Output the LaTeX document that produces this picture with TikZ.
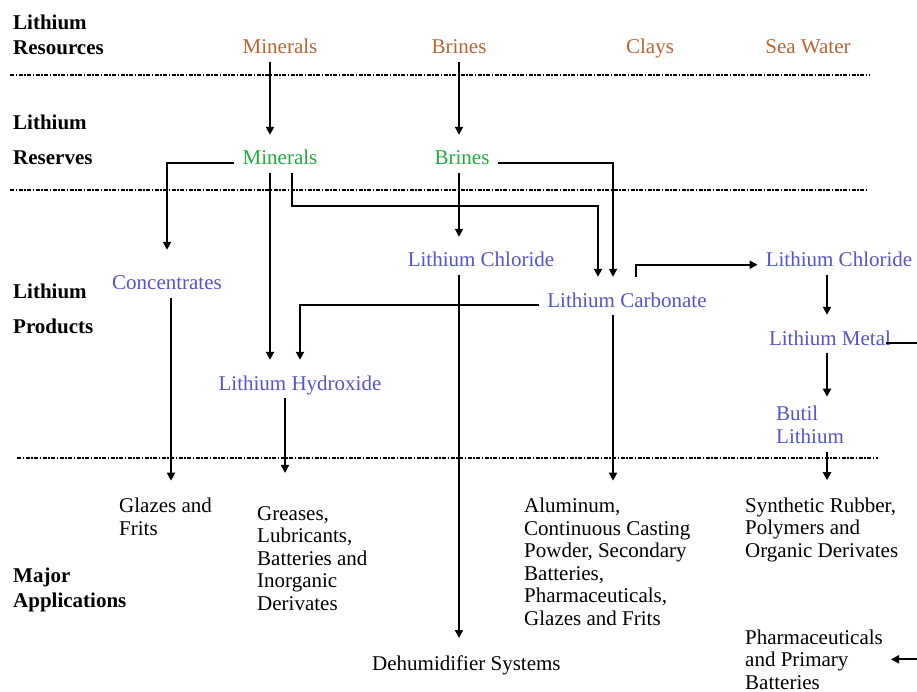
\documentclass[tikz,border=0pt]{standalone}
\usepackage{fontspec}
\setmainfont{Liberation Serif}
\usetikzlibrary{arrows.meta}
\definecolor{resclr}{RGB}{184,100,52}
\definecolor{rsvclr}{RGB}{30,172,60}
\definecolor{prdclr}{RGB}{84,84,204}

\begin{document}
\begin{tikzpicture}[x=1pt,y=-1pt,
    font=\fontsize{21}{22.5}\selectfont,
    lvl/.style={font=\fontsize{21}{22.5}\selectfont\bfseries,align=left,anchor=base west,inner sep=0pt},
    word/.style={anchor=base,inner xsep=8pt,inner ysep=4pt,text height=26pt,text depth=4pt},
    res/.style={word,text=resclr},
    rsv/.style={word,text=rsvclr},
    prd/.style={word,text=prdclr},
    appl/.style={align=left,anchor=base west,inner xsep=8pt,inner ysep=17pt},
    sep/.style={line width=1.8pt,dash pattern=on 4pt off 1.5pt on 1.5pt off 1.5pt},
    arr/.style={line width=1.9pt,-{Triangle[length=8pt,width=8pt]}}]
    \useasboundingbox (0,0) rectangle (917,692);
    \clip (0,0) rectangle (917,692);

    % levels (base = last line)
    \node[lvl] (lvres) at (13,55) {Lithium\\[2.5pt]Resources};
    \node[lvl] (lvrsv) at (13,165) {Lithium\\[12.5pt]Reserves};
    \node[lvl] (lvprd) at (13,333) {Lithium\\[12.5pt]Products};
    \node[lvl] (lvapp) at (13,607) {Major\\[2.5pt]Applications};

    \draw[sep] (10,75) -- (870,75);
    \draw[sep] (10,190) -- (867,190);
    \draw[sep] (17,458) -- (878,458);

    % resources and reserves
    \node[res] (resMin) at (280,54) {Minerals};
    \node[res] (resBri) at (459,54) {Brines};
    \node[res] (resCla) at (650,54) {Clays};
    \node[res] (resSea) at (808,54) {Sea Water};
    \node[rsv] (rsvMin) at (280,165) {Minerals};
    \node[rsv] (rsvBri) at (462,165) {Brines};

    % products
    \node[prd,text height=36pt] (conc) at (167,290) {Concentrates};
    \node[prd] (chlL) at (481,267) {Lithium Chloride};
    \node[prd] (carb) at (627,307) {Lithium Carbonate};
    \node[prd] (chlR) at (839,267) {Lithium Chloride};
    \node[prd] (metal) at (830,345) {Lithium Metal};
    \node[prd] (hydr) at (300,390) {Lithium Hydroxide};
    \node[align=left,anchor=base west,inner xsep=0pt,inner ysep=9pt,text=prdclr] (butil) at (776,443) {Butil\\Lithium};

    % applications
    \node[appl] (glaz) at (111,535) {Glazes and\\Frits};
    \node[appl,inner ysep=33pt] (greas) at (249,610) {Greases,\\Lubricants,\\Batteries and\\Inorganic\\Derivates};
    \node[appl] (alum) at (516,625) {Aluminum,\\Continuous Casting\\Powder, Secondary\\Batteries,\\Pharmaceuticals,\\Glazes and Frits};
    \node[appl] (synth) at (737,557) {Synthetic Rubber,\\Polymers and\\Organic Derivates};
    \node[appl] (dehum) at (364,670) {Dehumidifier Systems};
    \node[appl] (pharma) at (737,689) {Pharmaceuticals\\and Primary\\Batteries};

    % flows
    \draw[arr] ([xshift=-10pt]resMin.south) -- ([xshift=-10pt]rsvMin.north);
    \draw[arr] (resBri.south) -- (resBri.south |- rsvBri.north);
    \draw[arr] (rsvMin.mid west) -| (conc.north);
    \draw[arr] ([xshift=-10pt]rsvMin.south) -- ([xshift=-10pt]rsvMin.south |- hydr.north);
    \draw[arr] ([xshift=12pt]rsvMin.south) -- ++(0,33) -| ([xshift=-29pt]carb.north);
    \draw[arr] (rsvBri.mid east) -| ([xshift=-14pt]carb.north);
    \draw[arr] (resBri.south |- rsvBri.south) -- (resBri.south |- chlL.north);
    \draw[arr] (resBri.south |- chlL.south) -- (resBri.south |- dehum.north);
    \draw[arr] (carb.mid west) -| (hydr.north);
    \draw[arr] ([xshift=9pt]carb.north) |- (chlR.mid west);
    \draw[arr] ([xshift=-14pt]carb.south) -- ([xshift=-14pt]carb.south |- alum.north);
    \draw[arr] ([xshift=-12pt]chlR.south) -- ([xshift=-3pt]metal.north);
    \draw[arr] ([xshift=-3pt]metal.south) -- ([xshift=-3pt]metal.south |- butil.north);
    \draw[arr] ([xshift=-3pt]metal.south |- butil.south) -- ([xshift=-3pt]metal.south |- synth.north);
    \draw[arr] ([xshift=4pt]conc.south) -- ([xshift=4pt]conc.south |- glaz.north);
    \draw[arr] ([xshift=-15pt]hydr.south) -- ([xshift=-15pt]hydr.south |- greas.north);
    \draw[arr] ([xshift=-13pt]metal.mid east) -- ++(40,0) |- (pharma.east);
\end{tikzpicture}
\end{document}
